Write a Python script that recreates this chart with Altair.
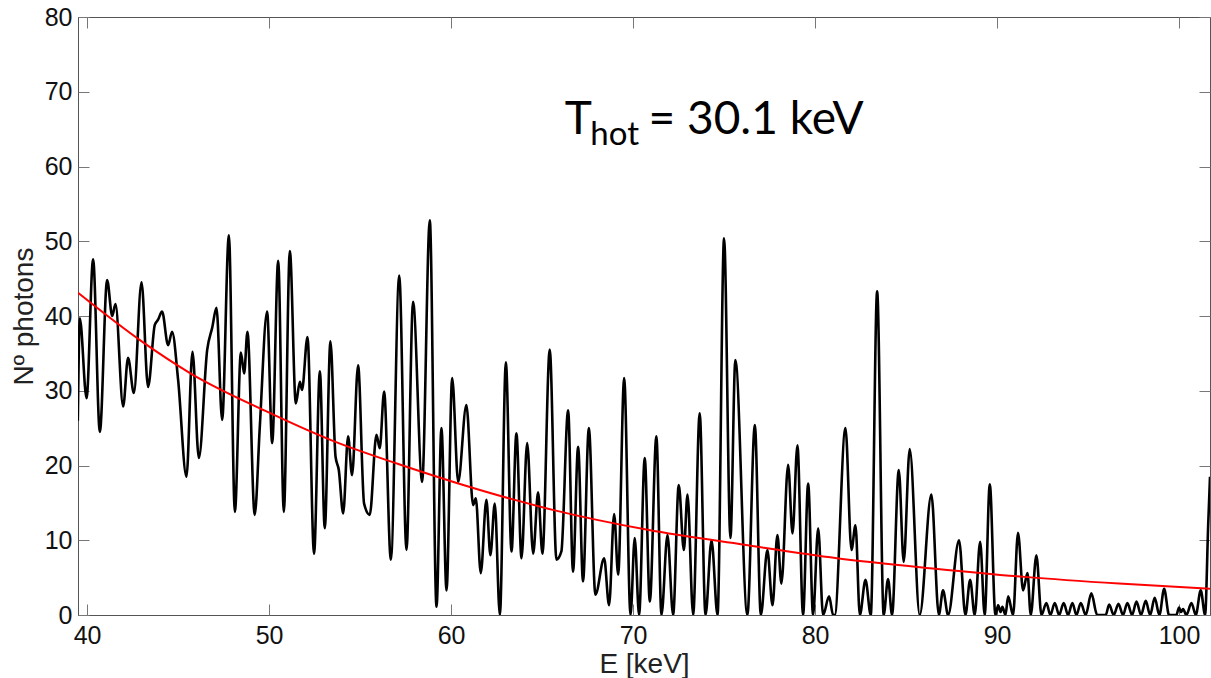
import altair as alt
import pandas as pd

E_keV = [
    39.49, 39.60, 39.97, 40.33, 40.70, 41.10, 41.38, 41.56, 41.98, 42.25, 42.57, 42.99,
    43.35, 43.72, 43.90, 44.12, 44.45, 44.67, 45.00, 45.46, 45.79, 46.14, 46.60, 46.88,
    47.11, 47.42, 47.79, 48.12, 48.45, 48.63, 48.81, 49.21, 49.49, 49.89,
    50.17, 50.50, 50.81, 51.14, 51.47, 51.69, 51.81, 52.11, 52.47, 52.79, 53.06, 53.37,
    53.65, 53.83, 54.07, 54.34, 54.56, 54.89, 55.22, 55.53, 55.90, 56.08, 56.32, 56.69,
    57.15, 57.55, 57.91, 58.41, 58.83, 59.20, 59.47, 59.75, 60.06,
    60.39, 60.84, 61.21, 61.36, 61.63, 61.94, 62.16, 62.40, 62.68, 63.01, 63.32, 63.59,
    63.87, 64.18, 64.51, 64.78, 65.02, 65.42, 65.79, 66.06, 66.43, 66.70, 66.98, 67.25,
    67.57, 67.93, 68.41, 68.68, 68.96, 69.18, 69.51, 69.86, 70.09, 70.33, 70.64,
    70.92, 71.28, 71.56, 71.89, 72.20, 72.51, 72.79, 72.99, 73.30, 73.66, 73.98, 74.31,
    74.64, 75.00, 75.35, 75.62, 76.28, 76.69, 77.02, 77.38, 77.66, 77.93, 78.15, 78.52,
    78.76, 79.03, 79.34, 79.62, 79.89, 80.17, 80.44, 80.77, 80.99, 81.08,
    81.67, 82.00, 82.22, 82.46, 82.77, 83.06, 83.41, 83.77, 84.01, 84.23, 84.60, 84.87,
    85.20, 85.75, 86.39, 86.80, 87.03, 87.31, 87.91, 88.26, 88.52, 88.77, 89.07, 89.32,
    89.60, 89.91, 90.06, 90.19, 90.29, 90.46, 90.61, 90.88, 91.15, 91.43, 91.67,
    91.85, 92.16, 92.44, 92.71, 92.93, 93.17, 93.41, 93.66, 93.90, 94.14, 94.36, 94.60,
    94.87, 95.18, 95.50, 95.97, 96.16, 96.41, 96.67, 96.92, 97.16, 97.42, 97.66, 97.91,
    98.17, 98.41, 98.66, 98.92, 99.18, 99.45, 99.85, 100.00, 100.11, 100.22, 100.40,
    100.68, 100.92, 101.19, 101.43, 101.60, 101.70,
]
photons = [
    26.0, 39.7, 29.0, 47.6, 24.5, 44.8, 40.0, 41.6, 27.9, 34.4, 29.7, 44.5,
    30.5, 38.8, 39.5, 40.6, 36.1, 37.9, 31.5, 18.5, 35.2, 21.0, 35.5, 38.5,
    41.1, 26.1, 50.8, 13.8, 35.1, 32.3, 37.9, 13.4, 25.2, 40.6,
    23.0, 47.4, 13.8, 48.7, 28.3, 31.2, 30.1, 37.2, 8.2, 32.6, 11.6, 36.6,
    21.2, 19.4, 13.6, 23.9, 18.7, 33.4, 14.9, 13.4, 24.1, 22.3, 29.9, 7.4,
    45.4, 8.7, 41.9, 17.8, 52.8, 1.1, 25.0, 3.3, 31.7,
    17.8, 28.1, 14.7, 15.6, 5.6, 15.4, 8.0, 14.9, 0.0, 33.8, 8.5, 24.3,
    7.6, 23.0, 8.2, 16.4, 8.2, 35.5, 7.4, 8.5, 27.4, 5.8, 22.5, 4.5,
    25.0, 2.7, 7.6, 1.3, 13.5, 5.4, 31.7, 0.0, 10.3, 0.0, 21.0,
    1.8, 23.9, 0.0, 10.7, 0.0, 17.4, 8.7, 16.1, 0.0, 27.0, 0.0, 10.0,
    0.0, 50.4, 10.3, 34.1, 0.0, 25.4, 0.0, 8.7, 1.3, 10.7, 4.2, 20.1,
    10.9, 22.7, 0.0, 17.6, 0.0, 11.6, 0.0, 2.5, 0.0, 0.0,
    25.0, 8.7, 12.0, 0.0, 4.7, 0.0, 43.3, 0.0, 4.8, 0.0, 19.4, 7.1,
    22.2, 0.0, 16.1, 0.0, 3.3, 0.0, 10.0, 0.0, 4.7, 0.0, 9.8, 0.0,
    17.5, 0.0, 1.3, 0.4, 1.1, 0.0, 2.5, 0.0, 11.0, 3.3, 5.6,
    0.0, 8.0, 0.0, 1.6, 0.0, 1.6, 0.0, 1.6, 0.0, 1.6, 0.0, 1.6,
    0.0, 2.9, 0.0, 0.0, 1.4, 0.0, 1.5, 0.0, 1.6, 0.0, 1.8, 0.0,
    1.9, 0.0, 2.3, 0.0, 3.5, 0.0, 0.0, 1.0, 0.4, 0.8, 0.0,
    1.6, 0.0, 3.3, 0.0, 12.0, 18.5,
]

# ---- fitted curve ----
fit_E = [39.5, 43.0, 45.7, 49.8, 53.4, 57.1, 60.4, 65.7, 70.8, 76.1, 81.2, 86.6, 91.5, 96.7, 101.7]
fit_N = [43.1, 36.6, 32.3, 27.3, 23.4, 20.2, 17.6, 14.0, 11.4, 9.4, 7.6, 6.2, 5.1, 4.2, 3.5]

x_ticks = [40, 50, 60, 70, 80, 90, 100]
y_ticks = [0, 10, 20, 30, 40, 50, 60, 70, 80]
title_parts = ["T", "hot", "= 30.1 keV"]

W, H = 1132, 598
xs = alt.Scale(domain=[39.5, 101.7], nice=False, zero=False)
ys = alt.Scale(domain=[0, 80], nice=False, zero=False)

spec = pd.DataFrame({"E": E_keV, "N": photons})
fit = pd.DataFrame({"E": fit_E, "N": fit_N})

FONT = "Liberation Sans"

main_x = alt.Axis(orient="bottom", values=x_ticks, ticks=False, grid=False,
                  labelFont=FONT, labelFontSize=25, labelColor="#111", labelPadding=8,
                  labelFlush=False, labelOverlap=False,
                  domainColor="#555", domainWidth=1,
                  title="E [keV]", titleFont=FONT, titleFontSize=28, titleFontWeight="normal",
                  titleColor="#222", titlePadding=2)
main_y = alt.Axis(orient="left", values=y_ticks, ticks=False, grid=False,
                  labelFont=FONT, labelFontSize=25, labelColor="#111", labelPadding=6,
                  labelFlush=False, labelOverlap=False,
                  domainColor="#555", domainWidth=1,
                  title="Nº photons", titleFont=FONT, titleFontSize=28, titleFontWeight="normal",
                  titleColor="#222", titlePadding=6)


def tick_axis(orient, offset, values):
    return alt.Axis(orient=orient, offset=offset, values=values, labels=False, domain=False,
                    ticks=True, tickSize=11, tickColor="#777", tickWidth=1, grid=False, title="")


black = alt.Chart(spec).mark_line(color="black", strokeWidth=2.6, interpolate="monotone", clip=True).encode(
    x=alt.X("E:Q", scale=xs, axis=main_x),
    y=alt.Y("N:Q", scale=ys, axis=main_y),
)

red = alt.Chart(fit).mark_line(color="#ff0000", strokeWidth=2, interpolate="monotone", clip=True).encode(
    x=alt.X("E:Q", scale=xs, axis=tick_axis("top", -H, x_ticks)),
    y=alt.Y("N:Q", scale=ys, axis=tick_axis("right", -W, y_ticks)),
)

t_main = alt.Chart(pd.DataFrame({"s": [title_parts[0]]})).mark_text(
    font="Lato", fontSize=46, align="left", baseline="alphabetic", color="black"
).encode(
    x=alt.XDatum(66.25, scale=xs, axis=tick_axis("bottom", -H, x_ticks)),
    y=alt.YDatum(64.35, scale=ys, axis=tick_axis("left", -W, y_ticks)),
    text="s:N",
)

t_sub = alt.Chart(pd.DataFrame({"s": [title_parts[1]]})).mark_text(
    font="Lato", fontSize=33, align="left", baseline="alphabetic", color="black"
).encode(
    x=alt.XDatum(67.65, scale=xs, axis=None),
    y=alt.YDatum(62.9, scale=ys, axis=None),
    text="s:N",
)

t_rest = alt.Chart(pd.DataFrame({"s": [title_parts[2]]})).mark_text(
    font="Lato", fontSize=46, align="left", baseline="alphabetic", color="black"
).encode(
    x=alt.XDatum(70.85, scale=xs, axis=None),
    y=alt.YDatum(64.35, scale=ys, axis=None),
    text="s:N",
)

chart = alt.layer(black, red, t_main, t_sub, t_rest).resolve_axis(
    x="independent", y="independent"
).properties(
    width=W, height=H,
    autosize=alt.AutoSizeParams(type="none"),
    padding={"left": 78, "top": 17, "right": 1, "bottom": 63},
    background="white",
).configure_view(stroke="#555", strokeWidth=1)

chart.save("out.html", embed_options={"renderer": "svg", "actions": False})
